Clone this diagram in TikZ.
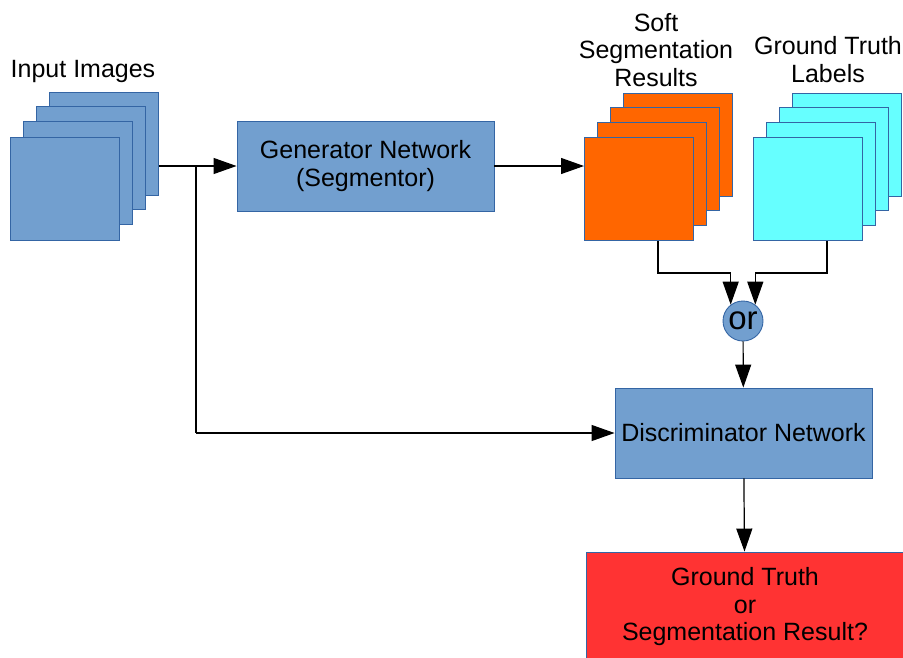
\documentclass[tikz,border=0pt]{standalone}
\usepackage{fontspec}
\setmainfont{Liberation Sans}
\usepackage{xcolor}
\usepackage{tikz}
\usetikzlibrary{shapes,arrows.meta,positioning,calc}

\definecolor{netblue}{HTML}{729FCF}
\definecolor{netedge}{HTML}{3465A4}
\definecolor{segorange}{HTML}{FF6600}
\definecolor{gtcyan}{HTML}{66FFFF}
\definecolor{resred}{HTML}{FF3333}

\begin{document}
\begin{tikzpicture}[x=1pt, y=-1pt, font=\fontsize{25}{27.5}\selectfont,
    block/.style={rectangle, draw=netedge, fill=netblue, line width=0.9pt, minimum width=257pt, minimum height=90pt, align=center, inner sep=0pt},
    page/.style={rectangle, draw=netedge, line width=0.9pt, minimum width=109pt, minimum height=103pt, anchor=north west, inner sep=0pt},
    arr/.style={-{Triangle[length=23pt,width=16pt]}, line width=1.2pt}]

    \useasboundingbox (0,0) rectangle (903,657);

    % Left side - input stack
    \node[page, fill=netblue] (in4) at (49,92) {};
    \node[page, fill=netblue] (in3) at (36,106) {};
    \node[page, fill=netblue] (in2) at (23,121) {};
    \node[page, fill=netblue] (in1) at (10,137) {};
    \node (inlabel) at (83,71) {Input Images};

    % Generator
    \node[block] (gen) at (365.5,166) {Generator Network\\(Segmentor)};

    % Soft segmentation stack
    \node[page, fill=segorange] (seg4) at (623,93) {};
    \node[page, fill=segorange] (seg3) at (610,107) {};
    \node[page, fill=segorange] (seg2) at (597,122) {};
    \node[page, fill=segorange] (seg1) at (584,137) {};
    \node[align=center] (seglabel) at (656,50) {Soft\\Segmentation\\Results};

    % Ground truth stack
    \node[page, fill=gtcyan] (gt4) at (792,93) {};
    \node[page, fill=gtcyan] (gt3) at (779,107) {};
    \node[page, fill=gtcyan] (gt2) at (766,122) {};
    \node[page, fill=gtcyan] (gt1) at (753,137) {};
    \node[align=center] (gtlabel) at (828,59.5) {Ground Truth\\Labels};

    % or + discriminator
    \node[circle, draw=netedge, fill=netblue, line width=0.9pt, minimum size=40pt, inner sep=0pt, font=\fontsize{33}{33}\selectfont] (choice) at (743,321) {or};
    \node[block] (disc) at (743.5,433) {Discriminator Network};
    \node[block, fill=resred, minimum width=318pt, minimum height=110pt] (result) at (745,607) {Ground Truth\\or\\Segmentation Result?};

    % Arrows
    \coordinate (split) at (196,166);
    \draw[arr] (in4.east |- gen.west) -- (gen.west);
    \draw[line width=1.2pt] (split) -- (split |- disc.west);
    \draw[arr] (split |- disc.west) -- (disc.west);
    \draw[arr] (gen.east) -- (gen.east -| seg1.west);
    \draw[arr] ([xshift=19pt]seg1.south) -- ++(0,32) -| (choice.127);
    \draw[arr] ([xshift=19pt]gt1.south) -- ++(0,32) -| (choice.53);
    \draw[arr] (choice) -- (disc);
    \draw[arr] (disc) -- (result);

\end{tikzpicture}
\end{document}
